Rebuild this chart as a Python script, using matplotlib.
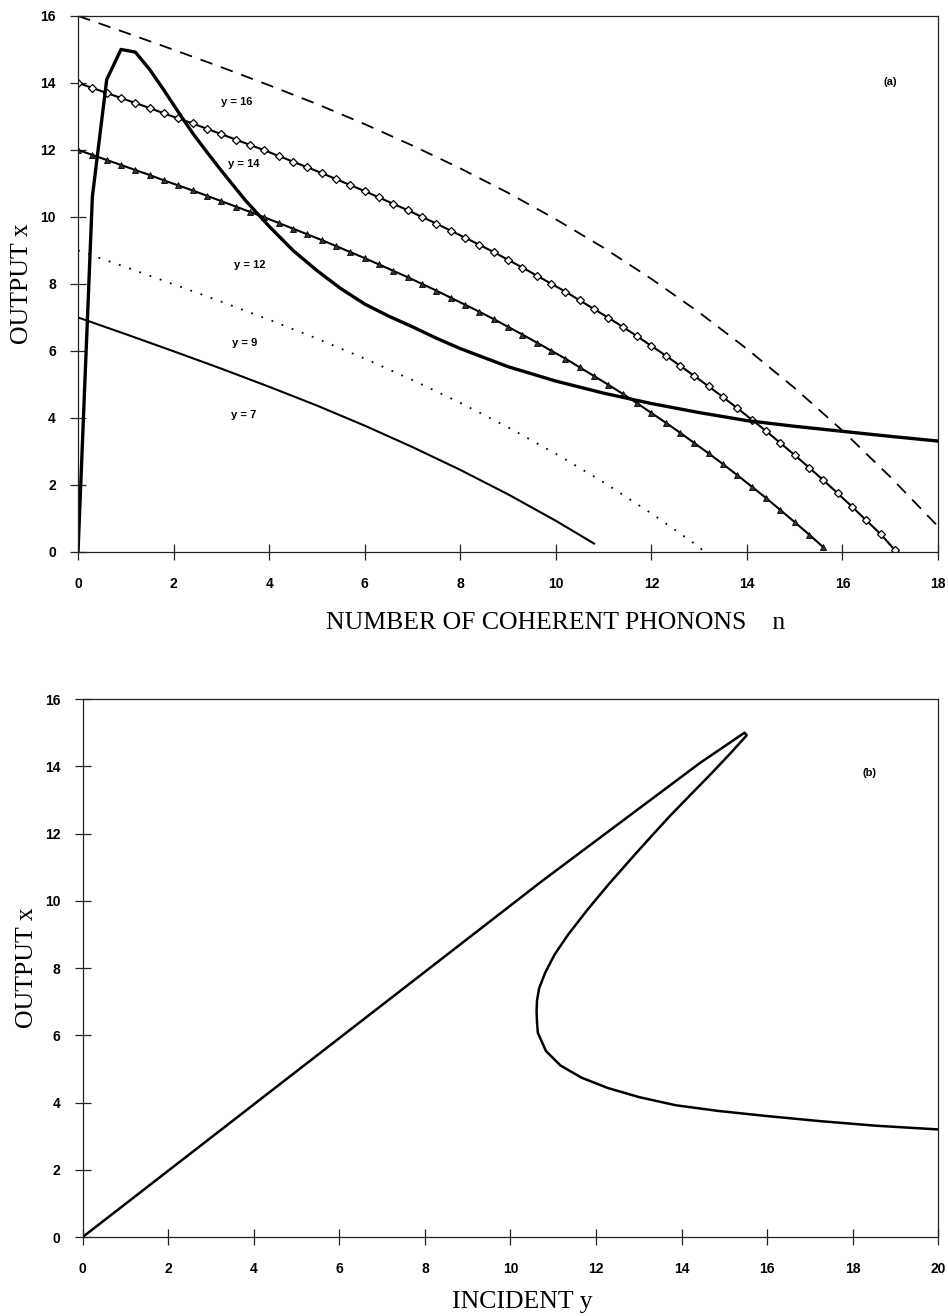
import numpy as np
import matplotlib
matplotlib.use('Agg')
import matplotlib.pyplot as plt

# ---- panel (a): output x against number of coherent phonons n ----
# marked curves are sampled every 0.3 in n
n_mark = [round(0.3*k, 1) for k in range(58)]
x_y14 = [14.00, 13.85, 13.70, 13.55, 13.40, 13.25, 13.09, 12.94, 12.79, 12.63,
         12.47, 12.31, 12.15, 11.99, 11.82, 11.65, 11.48, 11.31, 11.13, 10.95,
         10.77, 10.58, 10.39, 10.20, 10.00, 9.80, 9.59, 9.38, 9.17, 8.95,
         8.72, 8.49, 8.25, 8.01, 7.77, 7.51, 7.25, 6.99, 6.72, 6.44,
         6.15, 5.86, 5.56, 5.25, 4.94, 4.62, 4.29, 3.95, 3.61, 3.25,
         2.89, 2.52, 2.14, 1.75, 1.35, 0.94, 0.53, 0.05]
x_y12 = [12.00, 11.85, 11.70, 11.55, 11.40, 11.25, 11.09, 10.94, 10.79, 10.63,
         10.47, 10.31, 10.15, 9.99, 9.82, 9.65, 9.48, 9.31, 9.13, 8.95,
         8.77, 8.58, 8.39, 8.20, 8.00, 7.80, 7.59, 7.38, 7.17, 6.95,
         6.72, 6.49, 6.25, 6.01, 5.77, 5.51, 5.25, 4.99, 4.72, 4.44,
         4.15, 3.86, 3.56, 3.25, 2.94, 2.62, 2.29, 1.95, 1.61, 1.25,
         0.89, 0.52, 0.14]

n_y16 = [0, 1, 2, 3, 4, 5, 6, 7, 8, 9, 10, 11, 12, 13, 14, 15, 16, 17, 18]
x_y16 = [16, 15.50, 14.99, 14.47, 13.93, 13.37, 12.77, 12.13, 11.45, 10.72,
         9.93, 9.08, 8.15, 7.15, 6.06, 4.89, 3.62, 2.24, 0.76]

n_y9 = [0, 1, 2, 3, 4, 5, 6, 7, 8, 9, 10, 11, 12, 13, 13.1]
x_y9 = [9, 8.50, 7.99, 7.47, 6.93, 6.37, 5.77, 5.13, 4.45, 3.72, 2.93, 2.08,
        1.15, 0.15, 0.0]

n_y7 = [0, 1, 2, 3, 4, 5, 6, 7, 8, 9, 10, 10.8]
x_y7 = [7, 6.50, 5.99, 5.47, 4.93, 4.37, 3.77, 3.13, 2.45, 1.72, 0.93, 0.25]

# steady state curve (thick)
n_ss = [0, 0.3, 0.6, 0.9, 1.2, 1.5, 1.8, 2.1, 2.4, 2.7, 3.0, 3.5, 4.0, 4.5,
        5.0, 5.5, 6, 6.5, 7, 7.5, 8, 9, 10, 11, 12, 13, 14, 15, 16, 17, 18]
x_ss = [0, 10.6, 14.1, 15.0, 14.92, 14.4, 13.78, 13.13, 12.5, 11.93, 11.38,
        10.5, 9.72, 9.0, 8.4, 7.86, 7.4, 7.04, 6.72, 6.38, 6.07, 5.53, 5.1,
        4.74, 4.43, 4.16, 3.92, 3.75, 3.6, 3.45, 3.31]

labels_a = ['y = 16', 'y = 14', 'y = 12', 'y = 9', 'y = 7']
lab_n = [3.32, 3.46, 3.6, 3.49, 3.46]
lab_x = [13.44, 11.57, 8.57, 6.23, 4.09]

# ---- panel (b): output x against incident y ----
inc_y = [0, 10.75, 14.43, 15.47, 15.52, 15.15, 14.69, 14.19, 13.71, 13.30,
         12.91, 12.30, 11.79, 11.35, 11.03, 10.81, 10.67, 10.62, 10.61, 10.62,
         10.64, 10.83, 11.17, 11.66, 12.28, 13.01, 13.86, 14.86, 15.98, 17.21,
         18.55, 20.0]
out_x = [0, 10.6, 14.1, 15.0, 14.92, 14.4, 13.78, 13.13, 12.5, 11.93,
         11.38, 10.5, 9.72, 9.0, 8.4, 7.86, 7.4, 7.04, 6.72, 6.38,
         6.07, 5.53, 5.1, 4.74, 4.43, 4.16, 3.92, 3.75, 3.6, 3.45,
         3.31, 3.2]

serif = ['Liberation Serif', 'DejaVu Serif']
tickfont = dict(family='Liberation Sans', weight='bold', size=10)

fig = plt.figure(figsize=(9.48, 13.16), dpi=100)
axa = fig.add_axes([0.0823, 0.5806, 0.9072, 0.4073])
axb = fig.add_axes([0.0872, 0.0600, 0.9026, 0.4088])

axa.plot(n_y16, x_y16, color='k', lw=1.3, ls=(0, (7, 5)))
axa.plot(n_mark[:len(x_y14)], x_y14, color='k', lw=1.5, marker='D', ms=3.6,
         mfc='white', mec='k', mew=0.9)
axa.plot(n_mark[:len(x_y12)], x_y12, color='k', lw=1.5, marker='^', ms=4.5,
         mfc='#333333', mec='k', mew=0.6)
axa.plot(n_y9, x_y9, color='k', lw=1.3, ls=(0, (1, 5)))
axa.plot(n_y7, x_y7, color='k', lw=1.5)
axa.plot(n_ss, x_ss, color='k', lw=2.4)
for t, a, b in zip(labels_a, lab_n, lab_x):
    axa.text(a, b, t, ha='center', va='center', family='Liberation Sans',
             weight='bold', size=8)
axa.text(16.99, 14.04, '(a)', ha='center', va='center', family='Liberation Sans',
         weight='bold', size=8)
axa.set_xlim(0, 18)
axa.set_ylim(0, 16)
axa.set_xticks(np.arange(0, 19, 2))
axa.set_yticks(np.arange(0, 17, 2))
axa.set_xlabel('NUMBER OF COHERENT PHONONS    n', family=serif, size=18.5)
axa.xaxis.set_label_coords(0.555, -0.113)
axa.set_ylabel('OUTPUT x', family=serif, size=18.5, labelpad=5)

axb.plot(inc_y, out_x, color='k', lw=1.8)
axb.text(18.4, 13.8, '(b)', ha='center', va='center', family='Liberation Sans',
         weight='bold', size=8)
axb.set_xlim(0, 20)
axb.set_ylim(0, 16)
axb.set_xticks(np.arange(0, 21, 2))
axb.set_yticks(np.arange(0, 17, 2))
axb.set_xlabel('INCIDENT y', family=serif, size=18.5)
axb.xaxis.set_label_coords(0.514, -0.1)
axb.set_ylabel('OUTPUT x', family=serif, size=18.5, labelpad=5)

for ax in (axa, axb):
    for s in ax.spines.values():
        s.set_linewidth(0.9)
        s.set_color('#222222')
    ax.tick_params(direction='inout', length=12, width=0.9, color='#222222')
    ax.tick_params(axis='x', pad=12)
    ax.tick_params(axis='y', pad=10)
    for lab in ax.get_xticklabels() + ax.get_yticklabels():
        lab.set_fontproperties(matplotlib.font_manager.FontProperties(**tickfont))

fig.savefig('out.png', dpi=100)
